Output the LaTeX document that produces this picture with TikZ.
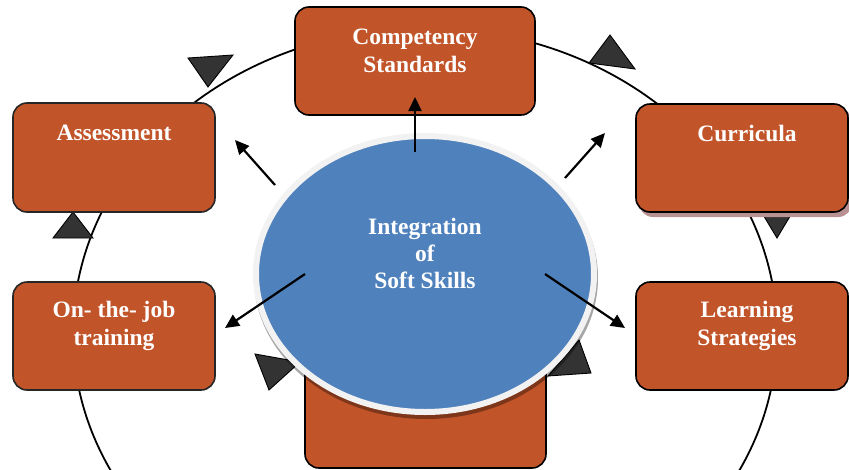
\documentclass[tikz,border=0pt]{standalone}
\usepackage{fontspec}
\setmainfont{Liberation Serif}
\usetikzlibrary{arrows.meta,shapes.geometric}
\definecolor{boxorange}{RGB}{194,84,42}
\definecolor{ssblue}{RGB}{79,129,189}
\definecolor{rimgray}{RGB}{242,242,242}
\definecolor{turngray}{RGB}{51,51,51}
\definecolor{cushadow}{RGB}{184,146,146}
\begin{document}
\begin{tikzpicture}[x=1pt, y=-1pt,
    stage/.style={rectangle, rounded corners=14pt, draw=black!85, line width=1.6pt, fill=boxorange, inner sep=0pt},
    lbl/.style={text=white, font=\fontsize{23.5}{28}\selectfont\bfseries, align=center, inner sep=0pt},
    turn/.style={fill=turngray, draw=black, line width=0.9pt},
    push/.style={line width=2.2pt, -{Triangle[length=14pt,width=13pt]}}]
    \useasboundingbox (0,0) rectangle (849,469);
    % the cycle round the stages
    \draw[line width=1.8pt] (425,333) ellipse [x radius=352pt, y radius=305pt];
    \filldraw[turn] (188,58) -- (233,55) -- (208,87) -- cycle;
    \filldraw[turn] (610,35) -- (589,63) -- (635,69) -- cycle;
    \filldraw[turn] (762,213) -- (792,213) -- (777,238) -- cycle;
    \filldraw[turn] (73,212) -- (53,238) -- (93,238) -- cycle;
    % stages
    \fill[cushadow, rounded corners=14pt] (639,108) rectangle (852,217);
    \node(cs) at (415,61) [stage, draw=black, minimum width=240pt, minimum height=108pt] {};
    \node(as) at (114,157.5) [stage, minimum width=202pt, minimum height=109pt] {};
    \node(cu) at (742,158) [stage, draw=black, minimum width=212pt, minimum height=108pt] {};
    \node(oj) at (114,336) [stage, minimum width=202pt, minimum height=108pt] {};
    \node(ls) at (742,336) [stage, draw=black, minimum width=212pt, minimum height=108pt] {};
    \node(pr) at (425.5,404) [stage, draw=black, minimum width=241pt, minimum height=128pt] {};
    \filldraw[turn] (255,354) -- (269,390) -- (300,362) -- cycle;
    \filldraw[turn] (579,340) -- (591,373) -- (548,376) -- cycle;
    \node(cstxt) at (415,51) [lbl] {Competency\\Standards};
    \node(astxt) at (114,133) [lbl] {Assessment};
    \node(cutxt) at (747,133) [lbl] {Curricula};
    \node(ojtxt) at (114,326) [lbl] {On- the- job\\training};
    \node(lstxt) at (747,326) [lbl] {Learning\\Strategies};
    % centre
    \fill[black, opacity=0.35] (426,278) ellipse [x radius=172pt, y radius=141pt];
    \node(iss) at (425,274) [ellipse, fill=ssblue, draw=rimgray, line width=6pt, minimum width=338pt, minimum height=276pt, inner sep=0pt] {};
    \node(isstxt) at (425,253) [lbl, font=\fontsize{23.5}{27}\selectfont\bfseries] {Integration\\of\\Soft Skills};
    \coordinate(upa) at (415,152);
    \coordinate(upb) at (415,97);
    \coordinate(ula) at (275,185);
    \coordinate(ulb) at (235,140);
    \coordinate(ura) at (565,178);
    \coordinate(urb) at (605,133);
    \coordinate(dla) at (305,274);
    \coordinate(dlb) at (225,328);
    \coordinate(dra) at (545,274);
    \coordinate(drb) at (625,328);
    \draw[push] (upa) -- (upb);
    \draw[push] (ula) -- (ulb);
    \draw[push] (ura) -- (urb);
    \draw[push] (dla) -- (dlb);
    \draw[push] (dra) -- (drb);
\end{tikzpicture}
\end{document}
